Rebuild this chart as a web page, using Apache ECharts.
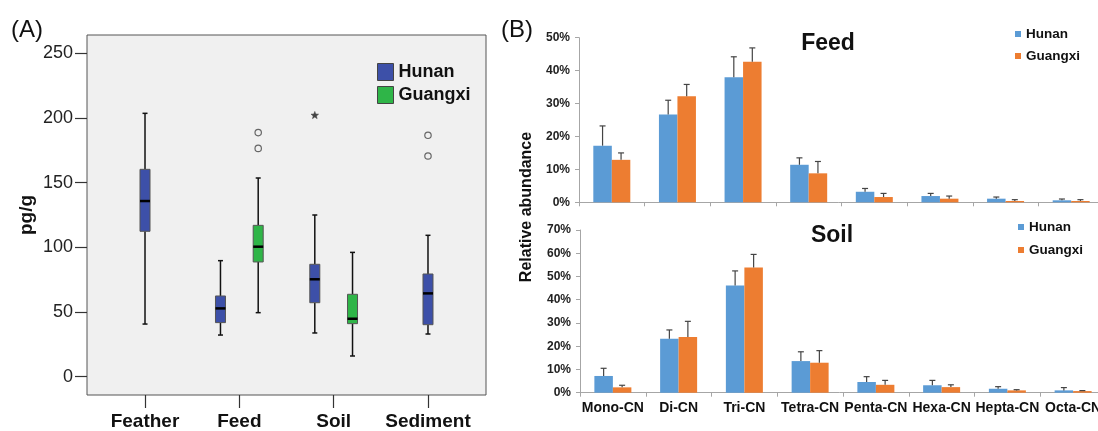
<!DOCTYPE html>
<html>
<head>
<meta charset="utf-8">
<script src="https://cdn.jsdelivr.net/npm/echarts@6/dist/echarts.min.js"></script>
<style>
html,body{margin:0;padding:0;background:#fff;}
#c{width:1098px;height:431px;}
</style>
</head>
<body>
<div id="c"></div>
<script>
// ---------- Panel A data (pg/g) ----------
const categoriesA = ['Feather', 'Feed', 'Soil', 'Sediment'];
const yTicksA = [0, 50, 100, 150, 200, 250];
// [min, Q1, median, Q3, max]
const hunanBox = [
  [40.7, 112.4, 135.8, 160.3, 203.6],
  [32.2, 41.8, 52.8, 62.4, 89.7],
  [33.8, 57.2, 75.3, 86.9, 125.0],
  [33.0, 40.2, 64.4, 79.4, 109.3]
];
const guangxiBox = [
  null,
  [49.5, 88.7, 100.5, 117.0, 153.6],
  [16.0, 41.0, 44.8, 63.7, 96.1],
  null
];
// [category index, value]
const hunanOutliers = [[3, 186.6], [3, 170.6]];
const hunanExtremes = [[2, 202.0]];
const guangxiOutliers = [[1, 188.7], [1, 176.5]];

// ---------- Panel B data (%) ----------
const congeners = ['Mono-CN', 'Di-CN', 'Tri-CN', 'Tetra-CN', 'Penta-CN', 'Hexa-CN', 'Hepta-CN', 'Octa-CN'];
const feedHunan = [17.2, 26.7, 38.0, 11.4, 3.2, 1.9, 1.1, 0.6];
const feedHunanSD = [6.0, 4.3, 6.2, 2.1, 1.0, 0.8, 0.5, 0.4];
const feedGuangxi = [12.9, 32.2, 42.7, 8.8, 1.6, 1.1, 0.4, 0.4];
const feedGuangxiSD = [2.1, 3.6, 4.2, 3.6, 1.1, 0.8, 0.4, 0.4];
const soilHunan = [7.2, 23.2, 46.1, 13.6, 4.6, 3.2, 1.7, 1.0];
const soilHunanSD = [3.3, 3.8, 6.3, 4.0, 2.3, 2.1, 0.9, 1.2];
const soilGuangxi = [2.3, 24.0, 53.9, 12.9, 3.4, 2.4, 1.0, 0.7];
const soilGuangxiSD = [0.9, 6.7, 5.6, 5.2, 1.9, 1.0, 0.3, 0.2];

// ---------- styles ----------
const FONT = "'Liberation Sans', Arial, Helvetica, sans-serif";
const BOX_BLUE = '#3d50a8', BOX_GREEN = '#2fb548';
const BAR_BLUE = '#5b9bd5', BAR_ORANGE = '#ed7d31';
const BAR_W = 18.5;
const BOX_W = 10, CAP_W = 5, GROUP_OFF = 0.2;

function groupOffset(cat, key) {
  const both = hunanBox[cat] && guangxiBox[cat];
  if (!both) return 0;
  return key === 'H' ? -GROUP_OFF : GROUP_OFF;
}

function boxRender(key) {
  return function (params, api) {
    const cat = api.value(0);
    const x = cat + groupOffset(cat, key);
    const pMin = api.coord([x, api.value(1)]);
    const pQ1 = api.coord([x, api.value(2)]);
    const pMed = api.coord([x, api.value(3)]);
    const pQ3 = api.coord([x, api.value(4)]);
    const pMax = api.coord([x, api.value(5)]);
    const px = pMin[0];
    const fill = api.visual('color');
    const ws = { stroke: '#111', lineWidth: 1.5 };
    return {
      type: 'group',
      children: [
        { type: 'line', shape: { x1: px, y1: pMin[1], x2: px, y2: pQ1[1] }, style: ws },
        { type: 'line', shape: { x1: px, y1: pQ3[1], x2: px, y2: pMax[1] }, style: ws },
        { type: 'line', shape: { x1: px - CAP_W / 2, y1: pMin[1], x2: px + CAP_W / 2, y2: pMin[1] }, style: ws },
        { type: 'line', shape: { x1: px - CAP_W / 2, y1: pMax[1], x2: px + CAP_W / 2, y2: pMax[1] }, style: ws },
        { type: 'rect', shape: { x: px - BOX_W / 2, y: pQ3[1], width: BOX_W, height: pQ1[1] - pQ3[1] },
          style: { fill: fill, stroke: '#555', lineWidth: 1 } },
        { type: 'line', shape: { x1: px - BOX_W / 2, y1: pMed[1], x2: px + BOX_W / 2, y2: pMed[1] },
          style: { stroke: '#000', lineWidth: 2.5 } }
      ]
    };
  };
}

function outlierRender(key, star) {
  return function (params, api) {
    const cat = api.value(0);
    const p = api.coord([cat + groupOffset(cat, key), api.value(1)]);
    if (star) {
      const pts = [];
      for (let i = 0; i < 10; i++) {
        const r = i % 2 === 0 ? 4 : 1.7;
        const a = -Math.PI / 2 + i * Math.PI / 5;
        pts.push([p[0] + r * Math.cos(a), p[1] + r * Math.sin(a)]);
      }
      return { type: 'polygon', shape: { points: pts }, style: { fill: '#444', stroke: '#444', lineWidth: 0.5 } };
    }
    return { type: 'circle', shape: { cx: p[0], cy: p[1], r: 3.2 },
      style: { fill: 'none', stroke: '#666', lineWidth: 1.2 } };
  };
}

function errRender(shiftSign) {
  return function (params, api) {
    const cat = api.value(0);
    const mean = api.value(1), sd = api.value(2);
    const c = api.coord([cat, mean]);
    const t = api.coord([cat, mean + sd]);
    const x = c[0] + shiftSign * BAR_W / 2;
    const st = { stroke: '#444', lineWidth: 1.2 };
    return {
      type: 'group',
      children: [
        { type: 'line', shape: { x1: x, y1: c[1], x2: x, y2: t[1] }, style: st },
        { type: 'line', shape: { x1: x - 3, y1: t[1], x2: x + 3, y2: t[1] }, style: st }
      ]
    };
  };
}

const withIdx = (arr) => arr.map((b, i) => (b ? [i].concat(b) : null)).filter(Boolean);
const errData = (means, sds) => means.map((m, i) => [i, m, sds[i]]);

const legendFmt = (name) => name.split('|')[1];

function barYAxis(gridIndex, max) {
  return {
    type: 'value', gridIndex: gridIndex, min: 0, max: max, interval: 10,
    axisLine: { show: true, onZero: false, lineStyle: { color: '#a6a6a6', width: 1 } },
    axisTick: { show: true, length: 4, lineStyle: { color: '#a6a6a6' } },
    axisLabel: { formatter: '{value}%', fontFamily: FONT, fontWeight: 'bold', fontSize: 12, color: '#222', margin: 9 },
    splitLine: { show: false }
  };
}
function barXAxis(gridIndex, showLabels) {
  return {
    type: 'category', gridIndex: gridIndex, data: congeners,
    axisLine: { show: true, onZero: false, lineStyle: { color: '#a6a6a6', width: 1 } },
    axisTick: { show: true, length: 4, alignWithLabel: false, lineStyle: { color: '#a6a6a6' } },
    axisLabel: { show: showLabels, fontFamily: FONT, fontWeight: 'bold', fontSize: 14, color: '#111', margin: 8,
      interval: 0, hideOverlap: false }
  };
}

const chart = echarts.init(document.getElementById('c'), null, { renderer: 'canvas' });
chart.setOption({
  backgroundColor: '#ffffff',
  animation: false,
  textStyle: { fontFamily: FONT },
  grid: [
    { left: 87, top: 35, width: 399, height: 360, show: true, backgroundColor: '#f0f0f0', borderColor: '#555', borderWidth: 1,
      outerBoundsMode: 'none', containLabel: false },
    { left: 579, top: 37.7, width: 525, height: 164.6, outerBoundsMode: 'none', containLabel: false },
    { left: 580, top: 230, width: 526, height: 162.7, outerBoundsMode: 'none', containLabel: false }
  ],
  xAxis: [
    {
      type: 'value', gridIndex: 0, min: -0.615, max: 3.615, position: 'bottom',
      axisLine: { show: false, onZero: false },
      axisTick: { show: true, length: 13, customValues: [0, 1, 2, 3], lineStyle: { color: '#333', width: 1.2 } },
      axisLabel: { customValues: [0, 1, 2, 3], formatter: (v) => categoriesA[Math.round(v)],
        fontFamily: FONT, fontWeight: 'bold', fontSize: 19, color: '#111', margin: 17 },
      splitLine: { show: false }
    },
    barXAxis(1, false),
    barXAxis(2, true)
  ],
  yAxis: [
    {
      type: 'value', gridIndex: 0, min: -14.15, max: 264.15, position: 'left',
      name: 'pg/g', nameLocation: 'middle', nameGap: 51, nameRotate: 90,
      nameTextStyle: { fontFamily: FONT, fontWeight: 'bold', fontSize: 19, color: '#111' },
      axisLine: { show: false, onZero: false },
      axisTick: { show: true, length: 12, customValues: yTicksA, lineStyle: { color: '#333', width: 1.2 } },
      axisLabel: { customValues: yTicksA, fontFamily: FONT, fontSize: 18, color: '#222', margin: 14 },
      splitLine: { show: false }
    },
    barYAxis(1, 50),
    barYAxis(2, 70)
  ],
  legend: [
    {
      left: 377, top: 63, padding: 0, orient: 'vertical', itemWidth: 16, itemHeight: 17, itemGap: 5, itemTextGap: 4,
      data: [{ name: 'A|Hunan', icon: 'rect' }, { name: 'A|Guangxi', icon: 'rect' }],
      formatter: legendFmt, selectedMode: false,
      itemStyle: { borderColor: '#444', borderWidth: 1 },
      textStyle: { fontFamily: FONT, fontWeight: 'bold', fontSize: 18, lineHeight: 17, color: '#111' }
    },
    {
      left: 1015, top: 26, padding: 0, orient: 'vertical', itemWidth: 6, itemHeight: 6, itemGap: 6, itemTextGap: 4,
      data: [{ name: 'F|Hunan', icon: 'rect' }, { name: 'F|Guangxi', icon: 'rect' }],
      formatter: legendFmt, selectedMode: false,
      textStyle: { fontFamily: FONT, fontWeight: 'bold', fontSize: 13.5, lineHeight: 16, color: '#111' }
    },
    {
      left: 1018, top: 219, padding: 0, orient: 'vertical', itemWidth: 6, itemHeight: 6, itemGap: 7, itemTextGap: 4,
      data: [{ name: 'S|Hunan', icon: 'rect' }, { name: 'S|Guangxi', icon: 'rect' }],
      formatter: legendFmt, selectedMode: false,
      textStyle: { fontFamily: FONT, fontWeight: 'bold', fontSize: 13.5, lineHeight: 16, color: '#111' }
    }
  ],
  graphic: [
    { type: 'text', left: 11, top: 18, style: { text: '(A)', font: '24px ' + FONT, fill: '#111' } },
    { type: 'text', left: 501, top: 18, style: { text: '(B)', font: '24px ' + FONT, fill: '#111' } },
    { type: 'text', x: 828, y: 44, style: { text: 'Feed', font: 'bold 23px ' + FONT, fill: '#111', textAlign: 'center', textVerticalAlign: 'middle' } },
    { type: 'text', x: 832, y: 236, style: { text: 'Soil', font: 'bold 23px ' + FONT, fill: '#111', textAlign: 'center', textVerticalAlign: 'middle' } },
    { type: 'text', x: 527, y: 207, rotation: Math.PI / 2,
      style: { text: 'Relative abundance', font: 'bold 16px ' + FONT, fill: '#111', textAlign: 'center', textVerticalAlign: 'middle' } }
  ],
  series: [
    // Panel A
    { name: 'A|Hunan', type: 'custom', xAxisIndex: 0, yAxisIndex: 0, renderItem: boxRender('H'),
      itemStyle: { color: BOX_BLUE, borderColor: '#444', borderWidth: 1 },
      encode: { x: 0, y: [1, 2, 3, 4, 5] }, data: withIdx(hunanBox), z: 3 },
    { name: 'A|Guangxi', type: 'custom', xAxisIndex: 0, yAxisIndex: 0, renderItem: boxRender('G'),
      itemStyle: { color: BOX_GREEN, borderColor: '#444', borderWidth: 1 },
      encode: { x: 0, y: [1, 2, 3, 4, 5] }, data: withIdx(guangxiBox), z: 3 },
    { name: 'A-outH', type: 'custom', xAxisIndex: 0, yAxisIndex: 0, renderItem: outlierRender('H', false),
      encode: { x: 0, y: 1 }, data: hunanOutliers, z: 4 },
    { name: 'A-extH', type: 'custom', xAxisIndex: 0, yAxisIndex: 0, renderItem: outlierRender('H', true),
      encode: { x: 0, y: 1 }, data: hunanExtremes, z: 4 },
    { name: 'A-outG', type: 'custom', xAxisIndex: 0, yAxisIndex: 0, renderItem: outlierRender('G', false),
      encode: { x: 0, y: 1 }, data: guangxiOutliers, z: 4 },
    // Panel B - Feed
    { name: 'F|Hunan', type: 'bar', xAxisIndex: 1, yAxisIndex: 1, data: feedHunan, barWidth: BAR_W, barGap: '0%',
      itemStyle: { color: BAR_BLUE } },
    { name: 'F|Guangxi', type: 'bar', xAxisIndex: 1, yAxisIndex: 1, data: feedGuangxi, barWidth: BAR_W, barGap: '0%',
      itemStyle: { color: BAR_ORANGE } },
    { name: 'F-errH', type: 'custom', xAxisIndex: 1, yAxisIndex: 1, renderItem: errRender(-1),
      encode: { x: 0, y: 1 }, data: errData(feedHunan, feedHunanSD), z: 5 },
    { name: 'F-errG', type: 'custom', xAxisIndex: 1, yAxisIndex: 1, renderItem: errRender(1),
      encode: { x: 0, y: 1 }, data: errData(feedGuangxi, feedGuangxiSD), z: 5 },
    // Panel B - Soil
    { name: 'S|Hunan', type: 'bar', xAxisIndex: 2, yAxisIndex: 2, data: soilHunan, barWidth: BAR_W, barGap: '0%',
      itemStyle: { color: BAR_BLUE } },
    { name: 'S|Guangxi', type: 'bar', xAxisIndex: 2, yAxisIndex: 2, data: soilGuangxi, barWidth: BAR_W, barGap: '0%',
      itemStyle: { color: BAR_ORANGE } },
    { name: 'S-errH', type: 'custom', xAxisIndex: 2, yAxisIndex: 2, renderItem: errRender(-1),
      encode: { x: 0, y: 1 }, data: errData(soilHunan, soilHunanSD), z: 5 },
    { name: 'S-errG', type: 'custom', xAxisIndex: 2, yAxisIndex: 2, renderItem: errRender(1),
      encode: { x: 0, y: 1 }, data: errData(soilGuangxi, soilGuangxiSD), z: 5 }
  ]
});
</script>
</body>
</html>
